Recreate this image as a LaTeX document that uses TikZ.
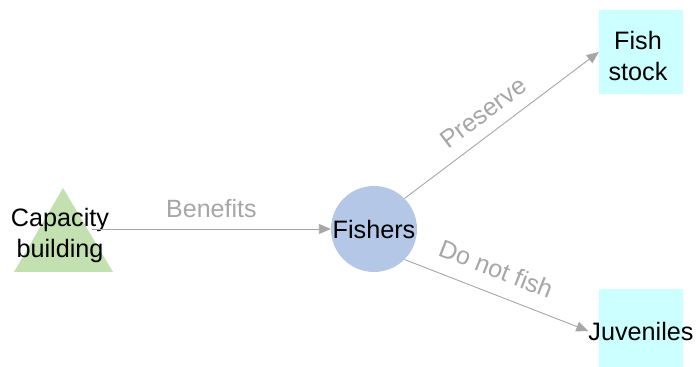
\documentclass[tikz,border=0pt]{standalone}
\usepackage{fontspec}
\setmainfont{Liberation Sans}
\usetikzlibrary{arrows.meta}
\definecolor{arrowgray}{HTML}{A6A6A6}
\definecolor{labelgray}{HTML}{A6A6A6}
\definecolor{trigreen}{HTML}{C2E0B0}
\definecolor{circblue}{HTML}{B4C7E7}
\definecolor{boxcyan}{HTML}{CCFFFF}
\tikzset{
  maintext/.style={font=\fontsize{25.2}{31}\selectfont, text=black, align=center},
  conn/.style={draw=arrowgray, line width=0.9pt, -{Triangle[length=12pt,width=10pt]}},
  lbl/.style={font=\fontsize{25}{29}\selectfont, text=labelgray, inner sep=0pt},
  boxnode/.style={fill=boxcyan, minimum width=84pt, minimum height=84pt, inner sep=0pt},
}
\begin{document}
\begin{tikzpicture}[x=1pt,y=1pt]
\useasboundingbox (0,0) rectangle (697,367);
\clip (0,0) rectangle (697,367);
% triangle
\fill[trigreen] (63,179) -- (113,95) -- (14,95) -- cycle;
\node[maintext] (cap) at (60,132) {Capacity\\building};
\coordinate (capout) at (92,138);
% circle
\node[circle, fill=circblue, minimum size=86pt, inner sep=0pt, maintext] (fishers) at (374,138) {Fishers};
% boxes
\node[boxnode] (fishbox) at (641,315) {};
\node[maintext] (fish) at (638,311) {Fish\\stock};
\node[boxnode] (juvbox) at (641,36) {};
\node[maintext, inner sep=0pt] (juv) at (641,36) {Juveniles};
% connectors
\draw[conn] (capout) -- (fishers.west) node[lbl, midway, above=11pt] {Benefits};
\draw[conn] (fishers.north east) -- (fishbox.west) node[lbl, pos=0.47, sloped, above=12pt] {Preserve};
\draw[conn] (fishers.south east) -- (juv.west) node[lbl, pos=0.45, sloped, above=15pt] {Do not fish};
\end{tikzpicture}
\end{document}
